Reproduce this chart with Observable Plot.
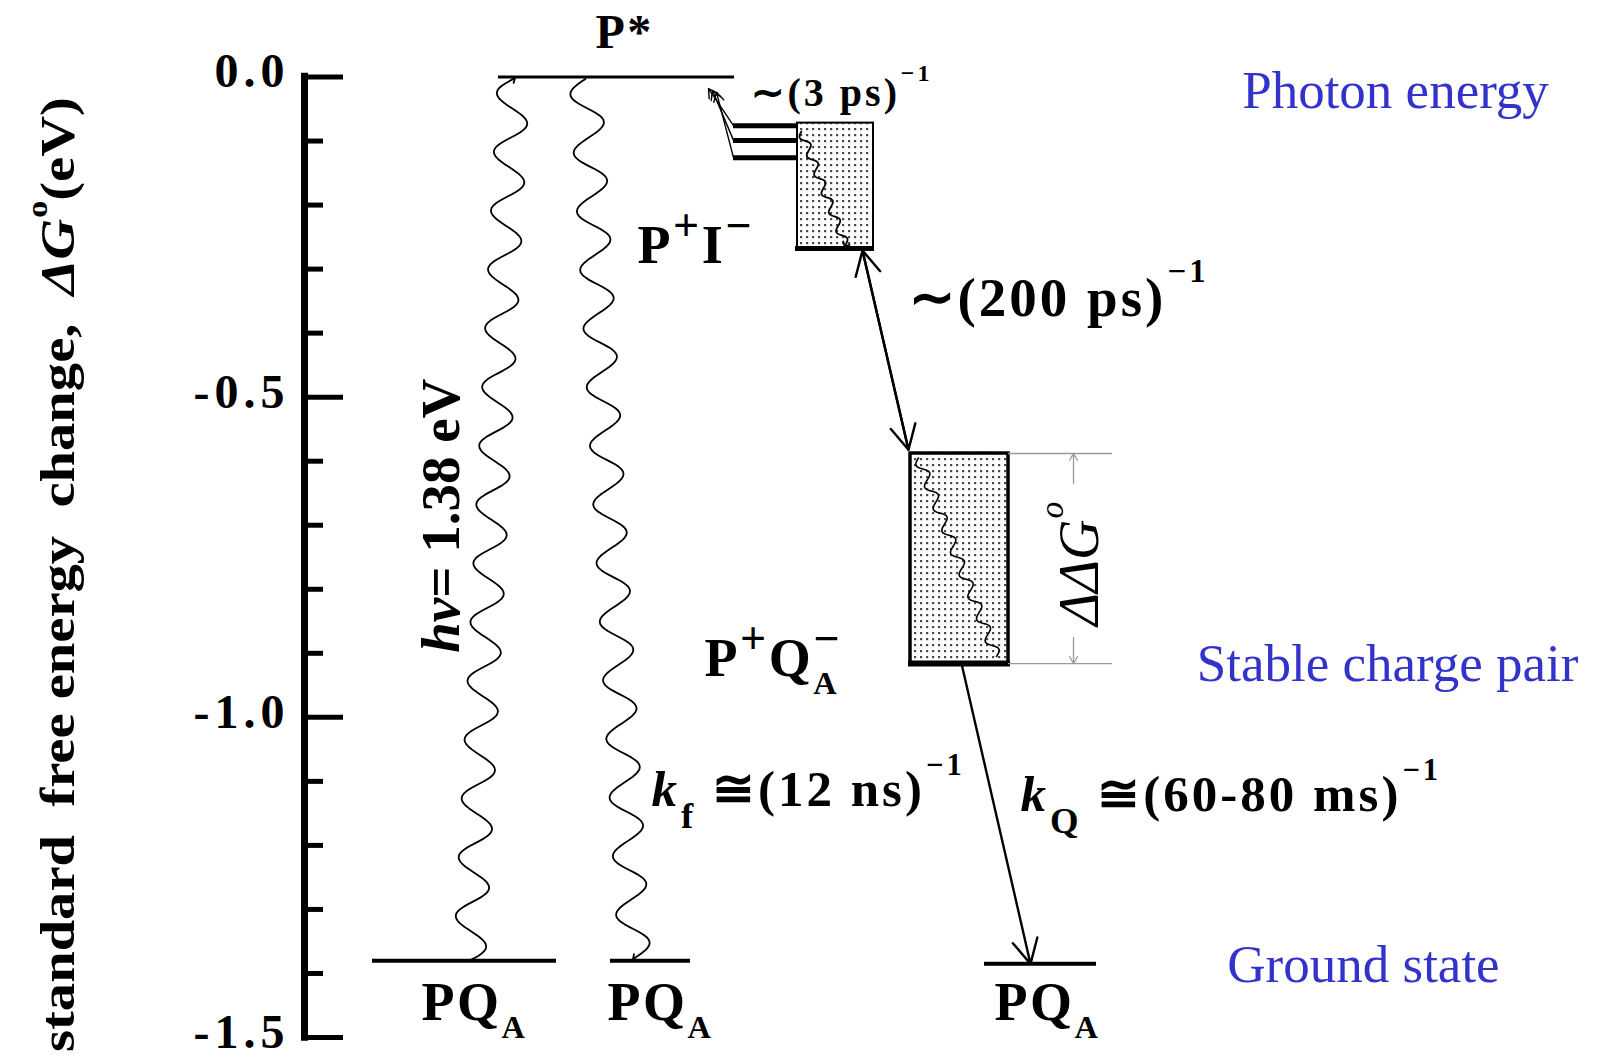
<!DOCTYPE html>
<html>
<head>
<meta charset="utf-8">
<script src="https://cdn.jsdelivr.net/npm/d3@7"></script>
<script src="https://cdn.jsdelivr.net/npm/@observablehq/plot@0.6"></script>
<style>
html,body{margin:0;padding:0;background:#fff;}
svg text{white-space:pre;}
</style>
</head>
<body>
<script>
// ================= DATA (energies in eV, labels) =================
const axisTicks = [0.0, -0.1, -0.2, -0.3, -0.4, -0.5, -0.6, -0.7, -0.8, -0.9, -1.0, -1.1, -1.2, -1.3, -1.4, -1.5];
const axisMajorTicks = [0.0, -0.5, -1.0, -1.5];
const axisTickLabels = ["0.0", "-0.5", "-1.0", "-1.5"];
const axisTitle = "standard  free energy  change,  %{ΔG}^{o}(eV)";

const stateLabels = ["P*", "P^{+}I^{−}", "P^{+}Q_{A}^{−}", "PQ_{A}", "PQ_{A}", "PQ_{A}"];
const pStarEnergy = [0.0];
const pIBand = [-0.072, -0.268];          // P+I− band (top, bottom)
const pQBand = [-0.588, -0.916];          // P+QA− band (top, bottom)
const groundEnergies = [-1.38, -1.38, -1.385];
const pISublevels = [-0.076, -0.099, -0.126];
const photonLabel = "%{hν}= 1.38 eV";
const rateLabels = ["∼(3 ps)^{−1}", "∼(200 ps)^{−1}", "%{k}_{f} ≅(12 ns)^{−1}", "%{k}_{Q} ≅(60-80 ms)^{−1}"];
const gapLabel = "ΔΔG^{o}";
const sideLabels = ["Photon energy", "Stable charge pair", "Ground state"];

// ================= LAYOUT (diagram units, no x axis) =================
const L = {
  axisX: 304, majorEnd: 343, minorEnd: 323, tickLabelX: 289,
  titleX: 73, titleY: -0.777,
  pStarX: [498, 734],
  groundX: [[372, 556], [610, 690], [984, 1096]],
  pIBoxX: [797, 873],
  pQBoxX: [910, 1008],
  sublevelX: [733, 797],
  subArrowTip: [[708, -0.018], [712, -0.021], [716, -0.024]],
  stateLabelPos: [[595, 0.046], [637, -0.291], [704, -0.936], [421, -1.473], [607, -1.473], [994, -1.473]],
  stateSize: [48, 54, 54, 54, 54, 54],
  ratePos: [[750, -0.045], [908, -0.374], [651, -1.139], [1020, -1.147]],
  rateSize: [40, 55, 51, 51],
  photonLabelPos: [458, -0.685],
  gapLabelPos: [1097, -0.76],
  gapGuideX: [1008, 1112], gapArrowX: 1073, gapArrowInner: [-0.635, -0.875],
  sideLabelPos: [[1395, -0.048], [1387, -0.944], [1363, -1.414]],
  arrow200: [[862, -0.271], [908, -0.582]],
  arrowKQ: [[961, -0.916], [1030, -1.385]],
  waves: [
    {x1: 469, y1: -1.38, x2: 513, y2: -0.003, amp: 16, period: 60},
    {x1: 585, y1: -0.003, x2: 634, y2: -1.376, amp: 16, period: 60},
    {x1: 801, y1: -0.085, x2: 845, y2: -0.262, amp: 4, period: 22},
    {x1: 918, y1: -0.595, x2: 996, y2: -0.905, amp: 5, period: 24}
  ]
};

const W = 1599, H = 1058, MT = 76.5, MB = 21;
const yPx = d3.scaleLinear([-1.5, 0], [H - MB, MT]);
const BLUE = "#3333cc";

// wavy transition path (decorative glyph of a radiative / relaxation step)
function wavePoints(id, w) {
  const ax = w.x1, ay = yPx(w.y1), bx = w.x2, by = yPx(w.y2);
  const dx = bx - ax, dy = by - ay, len = Math.hypot(dx, dy);
  const nx = -dy / len, ny = dx / len;
  const cycles = Math.max(1, Math.round(len / w.period));
  const N = cycles * 24;
  return d3.range(N + 1).map(i => {
    const t = i / N, o = w.amp * Math.sin(2 * Math.PI * cycles * t);
    return {id, x: ax + dx * t + nx * o, y: yPx.invert(ay + dy * t + ny * o)};
  });
}

const levelRules = [
  {x1: L.pStarX[0], x2: L.pStarX[1], y: pStarEnergy[0], w: 3},
  ...groundEnergies.map((e, i) => ({x1: L.groundX[i][0], x2: L.groundX[i][1], y: e, w: 4})),
  {x1: L.pIBoxX[0] - 2, x2: L.pIBoxX[1] + 1, y: pIBand[1], w: 5},
  {x1: L.pQBoxX[0] - 2, x2: L.pQBoxX[1] + 2, y: pQBand[1], w: 6},
  ...pISublevels.map(e => ({x1: L.sublevelX[0], x2: L.sublevelX[1], y: e, w: 5}))
];

const subArrows = pISublevels.map((e, i) => ({x1: L.sublevelX[0], y1: e, x2: L.subArrowTip[i][0], y2: L.subArrowTip[i][1]}));
const bigArrows = [
  {x1: L.arrow200[0][0], y1: L.arrow200[0][1], x2: L.arrow200[1][0], y2: L.arrow200[1][1]},
  {x1: L.arrow200[1][0], y1: L.arrow200[1][1], x2: L.arrow200[0][0], y2: L.arrow200[0][1]},
  {x1: L.arrowKQ[0][0], y1: L.arrowKQ[0][1], x2: L.arrowKQ[1][0], y2: L.arrowKQ[1][1]}
];
const gapArrows = [
  {x1: L.gapArrowX, y1: L.gapArrowInner[0], x2: L.gapArrowX, y2: pQBand[0]},
  {x1: L.gapArrowX, y1: L.gapArrowInner[1], x2: L.gapArrowX, y2: pQBand[1]}
];

const waveA = [...wavePoints(0, L.waves[0]), ...wavePoints(1, L.waves[1]), ...wavePoints(2, L.waves[2])];
const waveB = wavePoints(3, L.waves[3]);

const svg = Plot.plot({
  width: W, height: H,
  marginTop: MT, marginBottom: MB, marginLeft: 0, marginRight: 0,
  x: {domain: [0, W], axis: null},
  y: {domain: [-1.5, 0], axis: null},
  style: {fontFamily: "'Liberation Serif', 'Times New Roman', serif", background: "#fff", color: "#000"},
  marks: [
    // stippled bands
    Plot.rect([{x1: L.pIBoxX[0], x2: L.pIBoxX[1], y1: pIBand[1], y2: pIBand[0]}],
      {x1: "x1", x2: "x2", y1: "y1", y2: "y2", fill: "#010203", stroke: "#000", strokeWidth: 2, ariaDescription: "stipple"}),
    Plot.rect([{x1: L.pQBoxX[0], x2: L.pQBoxX[1], y1: pQBand[1], y2: pQBand[0]}],
      {x1: "x1", x2: "x2", y1: "y1", y2: "y2", fill: "#010203", stroke: "#000", strokeWidth: 3.5, ariaDescription: "stipple"}),

    // axis
    Plot.ruleX([L.axisX], {x: d => d, y1: -1.506, y2: 0.006, strokeWidth: 7, stroke: "#000"}),
    Plot.ruleY(axisTicks, {y: d => d, x1: L.axisX, x2: d => axisMajorTicks.includes(d) ? L.majorEnd : L.minorEnd, strokeWidth: 5, stroke: "#000"}),
    Plot.text(axisMajorTicks, {x: L.tickLabelX, y: d => d, text: (d, i) => axisTickLabels[i], textAnchor: "end", lineAnchor: "middle",
      dy: -5, fontSize: 48, fontWeight: "bold", fill: "#000", ariaDescription: "ticklabels"}),
    Plot.text([axisTitle], {x: L.titleX, y: L.titleY, text: d => d, rotate: -90, textAnchor: "middle", lineAnchor: "bottom",
      fontSize: 48, fontWeight: "bold", fill: "#000", ariaDescription: "title"}),

    // energy levels
    Plot.ruleY(levelRules, {y: "y", x1: "x1", x2: "x2", strokeWidth: "w", stroke: "#000"}),

    // ΔΔG° guides
    Plot.ruleY(pQBand, {y: d => d, x1: L.gapGuideX[0], x2: L.gapGuideX[1], stroke: "#9a9a9a", strokeWidth: 1.3}),
    Plot.arrow(gapArrows, {x1: "x1", y1: "y1", x2: "x2", y2: "y2", stroke: "#9a9a9a", strokeWidth: 1.3, headLength: 9}),

    // wavy transitions
    Plot.line(waveA, {x: "x", y: "y", z: "id", stroke: "#000", strokeWidth: 1.8, markerEnd: "arrow", curve: "linear"}),
    Plot.line(waveB, {x: "x", y: "y", z: "id", stroke: "#000", strokeWidth: 1.6, curve: "linear"}),

    // straight transitions
    Plot.arrow(subArrows, {x1: "x1", y1: "y1", x2: "x2", y2: "y2", stroke: "#000", strokeWidth: 1.4, headLength: 11}),
    Plot.arrow(bigArrows, {x1: "x1", y1: "y1", x2: "x2", y2: "y2", stroke: "#000", strokeWidth: 2.4, headLength: 17, headAngle: 55}),

    // state labels
    Plot.text(stateLabels, {x: (d, i) => L.stateLabelPos[i][0], y: (d, i) => L.stateLabelPos[i][1], text: d => d,
      fontSize: (d, i) => L.stateSize[i],
      textAnchor: "start", lineAnchor: "bottom", fontWeight: "bold", fill: "#000", ariaDescription: "states"}),
    // rate labels
    Plot.text(rateLabels, {x: (d, i) => L.ratePos[i][0], y: (d, i) => L.ratePos[i][1], text: d => d,
      fontSize: (d, i) => L.rateSize[i], textAnchor: "start", lineAnchor: "bottom", fontWeight: "bold", fill: "#000", ariaDescription: "rates"}),
    // photon energy label
    Plot.text([photonLabel], {x: L.photonLabelPos[0], y: L.photonLabelPos[1], text: d => d, rotate: -90, textAnchor: "middle",
      lineAnchor: "bottom", fontSize: 55, fontWeight: "bold", fill: "#000", ariaDescription: "photon"}),
    // ΔΔG° label
    Plot.text([gapLabel], {x: L.gapLabelPos[0], y: L.gapLabelPos[1], text: d => d, rotate: -90, textAnchor: "middle",
      lineAnchor: "bottom", fontSize: 56, fontStyle: "italic", fill: "#000", ariaDescription: "gap"}),
    // side labels
    Plot.text(sideLabels, {x: (d, i) => L.sideLabelPos[i][0], y: (d, i) => L.sideLabelPos[i][1], text: d => d,
      textAnchor: "middle", lineAnchor: "bottom", fontSize: 53, fill: BLUE})
  ]
});
document.body.appendChild(svg);

// ---------- post-processing: stipple pattern ----------
const S = d3.select(svg);
const defs = S.insert("defs", ":first-child");
const pat = defs.append("pattern").attr("id", "stipple").attr("width", 6).attr("height", 6).attr("patternUnits", "userSpaceOnUse");
pat.append("rect").attr("width", 6).attr("height", 6).attr("fill", "#fff");
pat.append("rect").attr("x", 2).attr("y", 2).attr("width", 2.2).attr("height", 2.2).attr("fill", "#4a4a4a");
S.selectAll('g[aria-description="stipple"], g[fill="#010203"]').attr("fill", "url(#stipple)");
S.selectAll('g[aria-description="ticklabels"]').style("letter-spacing", "5px");
S.selectAll('g[aria-description="states"]').style("letter-spacing", "2.5px");
S.selectAll('g[aria-description="rates"]').style("letter-spacing", "3px");

// ---------- rich text: ^{sup} _{sub} %{italic} ----------
function richify(desc, o) {
  S.selectAll(`g[aria-description="${desc}"] text`).each(function () {
    const el = this, s = el.textContent;
    if (!/[\^_%]\{/.test(s)) return;
    const fs = parseFloat(getComputedStyle(el).fontSize);
    el.textContent = "";
    const re = /([\^_%])\{([^}]*)\}|([^\^_%]+)/g;
    let cur = 0, prev = null, prevType = null, m;
    while ((m = re.exec(s))) {
      const type = m[1] || "n", txt = m[1] ? m[2] : m[3];
      const ts = document.createElementNS("http://www.w3.org/2000/svg", "tspan");
      ts.textContent = txt;
      let target = 0, size = fs;
      if (type === "^") { target = -o.supShift * fs; size = o.supSize * fs; }
      else if (type === "_") { target = o.subShift * fs; size = o.subSize * fs; }
      if (type === "%") ts.setAttribute("font-style", "italic");
      ts.setAttribute("font-size", size);
      ts.setAttribute("dy", target - cur);
      cur = target;
      el.appendChild(ts);
      if (prev && ((type === "^" && prevType === "_") || (type === "_" && prevType === "^"))) {
        ts.setAttribute("dx", -prev.getComputedTextLength());
      } else if (type === "_" || type === "^") {
        ts.setAttribute("dx", o.gap * fs);
      }
      prev = ts; prevType = type;
    }
  });
}
richify("states", {supShift: 0.42, supSize: 0.85, subShift: 0.33, subSize: 0.6, gap: 0.0});
richify("rates", {supShift: 0.62, supSize: 0.6, subShift: 0.42, subSize: 0.72, gap: 0.02});
richify("photon", {supShift: 0.62, supSize: 0.6, subShift: 0.42, subSize: 0.72, gap: 0.02});
richify("gap", {supShift: 0.62, supSize: 0.6, subShift: 0.3, subSize: 0.6, gap: 0.02});
richify("title", {supShift: 0.55, supSize: 0.6, subShift: 0.3, subSize: 0.6, gap: 0.02});
S.selectAll('g[aria-description="title"] text').attr("textLength", 955).attr("lengthAdjust", "spacingAndGlyphs");
</script>
</body>
</html>
